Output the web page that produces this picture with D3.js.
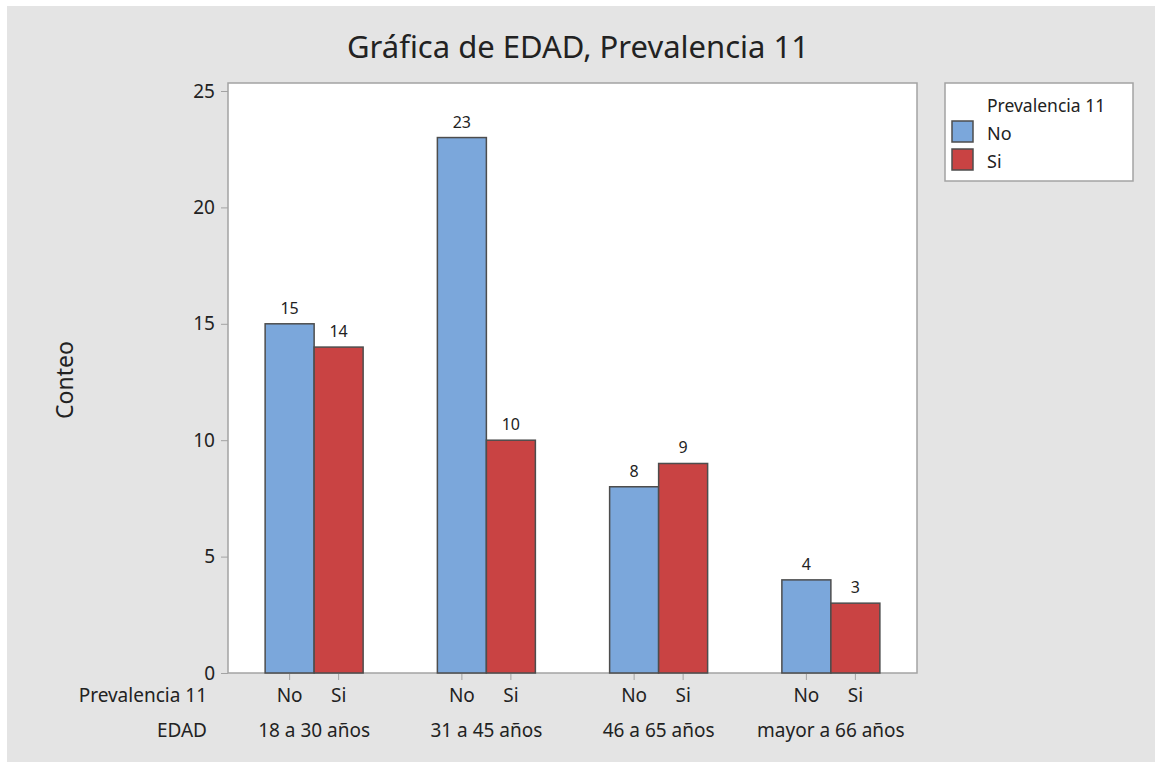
<!DOCTYPE html>
<html lang="es">
<head>
<meta charset="UTF-8">
<title>Gráfica de EDAD, Prevalencia 11</title>
<script src="https://cdn.jsdelivr.net/npm/d3@7/dist/d3.min.js"></script>
<style>
body { margin: 0; background: #fff; }
text { font-family: 'Noto Sans', 'Open Sans', sans-serif; fill: #222; }
</style>
</head>
<body>
<svg id="chart"></svg>
<script>
// data
const edad = ['18 a 30 años', '31 a 45 años', '46 a 65 años', 'mayor a 66 años'];
const prevalencia = ['No', 'Si'];
const noCounts = [15, 23, 8, 4];
const siCounts = [14, 10, 9, 3];
const yTicks = [0, 5, 10, 15, 20, 25];
const colors = ['#7ba7db', '#c94343'];

const W = 1155, H = 769;
const plot = {left: 228, right: 917, top: 83, bottom: 673};

const svg = d3.select('#chart').attr('width', W).attr('height', H);

// gray panel with thin white margin
svg.append('rect').attr('x', 7).attr('y', 6).attr('width', W - 7).attr('height', H - 7 - 6)
    .attr('fill', '#e4e4e4');

svg.append('rect')
    .attr('x', plot.left).attr('y', plot.top)
    .attr('width', plot.right - plot.left).attr('height', plot.bottom - plot.top)
    .attr('fill', '#fff').attr('stroke', '#a3a3a3').attr('stroke-width', 1.5);

const x0 = d3.scaleBand().domain(edad).range([plot.left, plot.right]).paddingInner(0).paddingOuter(0);
const x1 = d3.scaleBand().domain(prevalencia).range([0, 98]);
const y = d3.scaleLinear().domain([0, 25]).range([plot.bottom, 91]);

const rows = edad.map((e, i) => ({edad: e, values: [noCounts[i], siCounts[i]]}));

// bars
const groups = svg.append('g').selectAll('g').data(rows).join('g')
    .attr('transform', d => `translate(${x0(d.edad) + x0.bandwidth() / 2 - 49},0)`);

groups.selectAll('rect').data(d => d.values.map((v, j) => ({key: prevalencia[j], v: v, j: j})))
    .join('rect')
    .attr('x', d => x1(d.key))
    .attr('y', d => y(d.v))
    .attr('width', x1.bandwidth())
    .attr('height', d => y(0) - y(d.v))
    .attr('fill', d => colors[d.j])
    .attr('stroke', '#4d4d4d').attr('stroke-width', 1.5);

groups.selectAll('text.val').data(d => d.values.map((v, j) => ({key: prevalencia[j], v: v})))
    .join('text').attr('class', 'val')
    .attr('x', d => x1(d.key) + x1.bandwidth() / 2)
    .attr('y', d => y(d.v) - 10)
    .attr('text-anchor', 'middle')
    .attr('font-size', 16)
    .text(d => d.v);

// y axis
const yAxis = svg.append('g').attr('transform', `translate(${plot.left},0)`)
    .call(d3.axisLeft(y).tickValues(yTicks).tickSize(7).tickPadding(6));
yAxis.select('.domain').remove();
yAxis.selectAll('line').attr('stroke', '#a3a3a3');
yAxis.selectAll('text').attr('font-size', 19).attr('font-family', "'Noto Sans', sans-serif").attr('fill', '#222');

svg.append('text')
    .attr('transform', 'translate(73,380) rotate(-90)')
    .attr('text-anchor', 'middle')
    .attr('font-size', 23)
    .text('Conteo');

// x ticks and labels
const xTickG = svg.append('g');
rows.forEach(r => {
    prevalencia.forEach(p => {
        const cx = x0(r.edad) + x0.bandwidth() / 2 - 49 + x1(p) + x1.bandwidth() / 2;
        xTickG.append('line').attr('x1', cx).attr('x2', cx)
            .attr('y1', plot.bottom + 1).attr('y2', plot.bottom + 7)
            .attr('stroke', '#a3a3a3');
        xTickG.append('text').attr('x', cx).attr('y', 702)
            .attr('text-anchor', 'middle').attr('font-size', 19).text(p);
    });
    xTickG.append('text').attr('x', x0(r.edad) + x0.bandwidth() / 2).attr('y', 737)
        .attr('text-anchor', 'middle').attr('font-size', 19).text(r.edad);
});
svg.append('text').attr('x', 207).attr('y', 702).attr('text-anchor', 'end')
    .attr('font-size', 19).text('Prevalencia 11');
svg.append('text').attr('x', 207).attr('y', 737).attr('text-anchor', 'end')
    .attr('font-size', 19).text('EDAD');

// title
svg.append('text').attr('x', 578).attr('y', 58).attr('text-anchor', 'middle')
    .attr('font-size', 31).text('Gráfica de EDAD, Prevalencia 11');

// legend
const lg = svg.append('g');
lg.append('rect').attr('x', 945).attr('y', 83).attr('width', 188).attr('height', 98)
    .attr('fill', '#fff').attr('stroke', '#a3a3a3').attr('stroke-width', 1.5);
lg.append('text').attr('x', 987).attr('y', 112).attr('font-size', 17.5)
    .text('Prevalencia 11');
prevalencia.forEach((p, j) => {
    lg.append('rect').attr('x', 952).attr('y', 121 + j * 28).attr('width', 21).attr('height', 21)
        .attr('fill', colors[j]).attr('stroke', '#4d4d4d').attr('stroke-width', 1.5);
    lg.append('text').attr('x', 987).attr('y', 140 + j * 28).attr('font-size', 18).text(p);
});
</script>
</body>
</html>
